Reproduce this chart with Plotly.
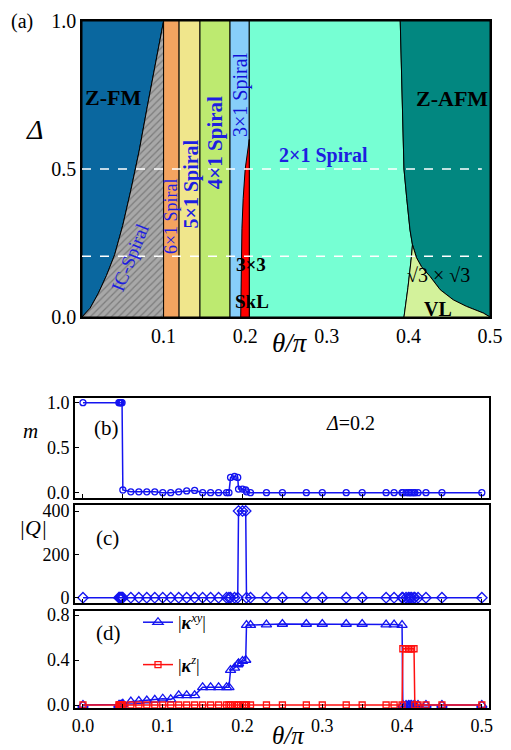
import plotly.graph_objects as go

# ---------------- Panel (a) phase-diagram data ----------------
ic_theta = [0.0, 0.01, 0.02, 0.03, 0.04, 0.05, 0.06, 0.07, 0.08, 0.09, 0.1]
ic_delta = [0.0, 0.03, 0.08, 0.14, 0.21, 0.31, 0.43, 0.56, 0.71, 0.85, 1.0]

spiral_edges = [0.1, 0.119, 0.1446, 0.1814, 0.205]   # 6x1 | 5x1 | 4x1 | 3x1
spiral_colors = ["#F4A460", "#F0E68C", "#BDEA70", "#87CEFA"]

skl_theta = [0.1945, 0.195, 0.196, 0.1975, 0.2, 0.205]
skl_delta = [0.0, 0.2, 0.3, 0.4, 0.5, 0.6]

afm_theta = [0.39, 0.392, 0.3946, 0.398, 0.402, 0.405]
afm_delta = [1.0, 0.733, 0.5, 0.4, 0.294, 0.244]

vl_top_theta = [0.405, 0.41, 0.416, 0.4265, 0.439, 0.455, 0.471, 0.4917, 0.5]
vl_top_delta = [0.244, 0.2, 0.17, 0.137, 0.092, 0.058, 0.036, 0.0135, 0.0]

vl_left_theta = [0.405, 0.4036, 0.3995, 0.3946]
vl_left_delta = [0.244, 0.2, 0.1, 0.0]

dashed_deltas = [0.5, 0.205]

# ---------------- Panels (b)-(d) data ----------------
theta = [0.0, 0.045, 0.046, 0.047, 0.048, 0.049, 0.05, 0.06, 0.07, 0.08, 0.09,
         0.10, 0.11, 0.12, 0.13, 0.14, 0.15, 0.16, 0.17, 0.18, 0.183, 0.185,
         0.19, 0.194, 0.195, 0.2, 0.204, 0.205, 0.21, 0.23, 0.25, 0.28, 0.30,
         0.33, 0.35, 0.38, 0.39, 0.40, 0.401, 0.405, 0.408, 0.41, 0.412, 0.415,
         0.416, 0.42, 0.43, 0.45, 0.5]

m_vals = [1.0, 1.0, 1.0, 1.0, 1.0, 1.0, 0.03, 0.01, 0.01, 0.01, 0.01,
          0.0, 0.0, 0.01, 0.02, 0.025, 0.0, 0.0, 0.0, 0.0, 0.0, 0.17,
          0.18, 0.17, 0.04, 0.04, 0.03, 0.01, 0.0, 0.0, 0.0, 0.0, 0.0,
          0.0, 0.0, 0.0, 0.0, 0.0, 0.0, 0.0, 0.0, 0.0, 0.0, 0.0,
          0.0, 0.0, 0.0, 0.0, 0.0]

q_vals = [0, 0, 0, 0, 0, 0, 0, 0, 0, 0, 0,
          0, 0, 0, 0, 0, 0, 0, 0, 0, 0, 0,
          0, 0, 400, 400, 400, 0, 0, 0, 0, 0, 0,
          0, 0, 0, 0, 0, 0, 0, 0, 0, 0, 0,
          0, 0, 0, 0, 0]

kxy_vals = [0.0, 0.0, 0.0, 0.0, 0.0, 0.005, 0.01, 0.03, 0.035, 0.04, 0.045,
            0.056, 0.05, 0.086, 0.086, 0.086, 0.157, 0.157, 0.157, 0.157, 0.157, 0.31,
            0.33, 0.36, 0.37, 0.39, 0.40, 0.71, 0.71, 0.715, 0.72, 0.72, 0.72,
            0.72, 0.72, 0.715, 0.715, 0.71, 0.0, 0.0, 0.0, 0.0, 0.0, 0.0,
            0.0, 0.0, 0.0, 0.0, 0.0]

kz_vals = [0.0, 0.0, 0.0, 0.0, 0.0, 0.0, 0.0, 0.0, 0.0, 0.0, 0.0,
           0.0, 0.0, 0.0, 0.0, 0.0, 0.0, 0.0, 0.0, 0.0, 0.0, 0.0,
           0.0, 0.0, 0.0, 0.0, 0.0, 0.0, 0.0, 0.0, 0.0, 0.0, 0.0,
           0.0, 0.0, 0.0, 0.0, 0.0, 0.5, 0.5, 0.5, 0.5, 0.5, 0.5,
           0.0, 0.0, 0.0, 0.0, 0.0]

# page body has an 8px margin, so the figure is 8px smaller and positions are offset
OFF = 8
W, H = 511 - OFF, 750 - OFF
FONT = "Liberation Serif"
BLUE = "#1414F0"
LBL = "#1E1EE0"


def P(px, py):
    return (px - OFF) / W, 1 - (py - OFF) / H


def xdom(left, right):
    return [(left - OFF) / W, (right - OFF) / W]


def ydom(top, bot):
    return [1 - (bot - OFF) / H, 1 - (top - OFF) / H]


fig = go.Figure()


def poly(xs, ys, color, **kw):
    fig.add_trace(go.Scatter(x=xs, y=ys, fill="toself", fillcolor=color, mode="lines",
                             line=dict(color="black", width=1), hoverinfo="skip",
                             showlegend=False, xaxis="x", yaxis="y", **kw))


# Z-FM
poly(ic_theta + [0.0, 0.0], ic_delta + [1.0, 0.0], "#0A679F")
# IC-Spiral (hatched)
poly(ic_theta + [0.1, 0.0], ic_delta + [0.0, 0.0], "#A8A8A8",
     fillpattern=dict(shape="/", fgcolor="#4F4F4F", bgcolor="#A8A8A8", size=5, solidity=0.25))
# commensurate spirals
for i, c in enumerate(spiral_colors):
    a, b = spiral_edges[i], spiral_edges[i + 1]
    poly([a, b, b, a, a], [0, 0, 1, 1, 0], c)
# 2x1 spiral
poly([0.205, 0.205] + afm_theta + vl_left_theta[1:] + [0.205],
     [0.0, 1.0] + afm_delta + vl_left_delta[1:] + [0.0], "#76FFD3")
# Z-AFM
poly([0.5, 0.5] + afm_theta + vl_top_theta[1:],
     [0.0, 1.0] + afm_delta + vl_top_delta[1:], "#028780")
# VL
poly(vl_left_theta + vl_top_theta[::-1],
     vl_left_delta + vl_top_delta[::-1], "#D3F29B")
# SkL
poly(skl_theta + [0.205, skl_theta[0]], skl_delta + [0.0, 0.0], "#FF0000")

# ---------------- (b) m ----------------
fig.add_trace(go.Scatter(x=theta, y=m_vals, mode="lines+markers", xaxis="x2", yaxis="y2",
                         line=dict(color=BLUE, width=1.5),
                         marker=dict(symbol="circle-open", size=6, color=BLUE, line=dict(width=1.3)),
                         showlegend=False))
# ---------------- (c) |Q| ----------------
fig.add_trace(go.Scatter(x=theta, y=q_vals, mode="lines+markers", xaxis="x3", yaxis="y3",
                         line=dict(color=BLUE, width=1.5),
                         marker=dict(symbol="diamond-open", size=8, color=BLUE, line=dict(width=1.3)),
                         showlegend=False))
# ---------------- (d) kappa ----------------
fig.add_trace(go.Scatter(x=theta, y=kxy_vals, mode="lines+markers", xaxis="x4", yaxis="y4",
                         name="|<b><i>κ</i></b><sup><i>xy</i></sup>|", legendgroup="a",
                         line=dict(color=BLUE, width=1.5),
                         marker=dict(symbol="triangle-up-open", size=9, color=BLUE, line=dict(width=1.3))))
fig.add_trace(go.Scatter(x=theta, y=kz_vals, mode="lines+markers", xaxis="x4", yaxis="y4",
                         name="|<b><i>κ</i></b><sup><i>z</i></sup>|", legendgroup="b",
                         line=dict(color="#FF1010", width=1.5),
                         marker=dict(symbol="square-open", size=6, color="#FF1010", line=dict(width=1.3))))

# ---------------- axes ----------------
TICKF_A = dict(family=FONT, size=20, color="black")
TICKF = dict(family=FONT, size=18, color="black")
base = dict(showgrid=False, zeroline=False, linecolor="black", mirror=True, automargin=False)

minor = dict(dtick=0.05, ticks="inside", ticklen=4, tick0=0, tickcolor="black")
xticks = [0, 0.1, 0.2, 0.3, 0.4, 0.5]

fig.update_layout(
    xaxis=dict(domain=xdom(82, 490), range=[0, 0.5], tickvals=[0.1, 0.2, 0.3, 0.4, 0.5],
               tickformat=".1f", ticks="", linewidth=1.5, anchor="y", tickfont=TICKF_A, **base),
    yaxis=dict(domain=ydom(21, 317), range=[0, 1], tickvals=[0, 0.5, 1.0], tickformat=".1f",
               ticks="", linewidth=1.5, anchor="x", tickfont=TICKF_A, **base),
    xaxis2=dict(domain=xdom(75, 489), range=[-0.01, 0.509], tickvals=xticks, ticks="inside", ticklen=4,
                tickcolor="black", showticklabels=False, linewidth=1.8, anchor="y2", minor=minor,
                tickfont=TICKF, **base),
    yaxis2=dict(domain=ydom(398, 498), range=[-0.059, 1.052], tickvals=[0, 0.5, 1.0], tickformat=".1f",
                ticks="inside", ticklen=4, tickcolor="black", linewidth=1.8, anchor="x2",
                tickfont=TICKF, **base),
    xaxis3=dict(domain=xdom(75, 489), range=[-0.01, 0.509], tickvals=xticks, ticks="inside", ticklen=4,
                tickcolor="black", showticklabels=False, linewidth=1.8, anchor="y3", minor=minor,
                tickfont=TICKF, **base),
    yaxis3=dict(domain=ydom(505, 603), range=[-24.5, 427.7], tickvals=[0, 200, 400],
                ticks="inside", ticklen=4, tickcolor="black", linewidth=1.8, anchor="x3",
                tickfont=TICKF, **base),
    xaxis4=dict(domain=xdom(75, 489), range=[-0.01, 0.509], tickvals=xticks, tickformat=".1f",
                ticks="inside", ticklen=4, tickcolor="black", linewidth=1.8, anchor="y4", minor=minor,
                tickfont=TICKF, **base),
    yaxis4=dict(domain=ydom(611, 708), range=[-0.0267, 0.8356], tickvals=[0, 0.4, 0.8], tickformat=".1f",
                ticks="inside", ticklen=4, tickcolor="black", linewidth=1.8, anchor="x4",
                tickfont=TICKF, **base),
)

# dashed white lines in (a)
for d in dashed_deltas:
    fig.add_shape(type="line", xref="x", yref="y", x0=0.0, x1=0.49, y0=d, y1=d,
                  line=dict(color="white", width=1.5, dash="dash"))


# ---------------- text labels in (a) ----------------
def lab(x, y, text, size, color="black", angle=0):
    fig.add_annotation(x=x, y=y, xref="x", yref="y", text=text, showarrow=False,
                       textangle=angle, font=dict(family=FONT, size=size, color=color),
                       xanchor="center", yanchor="middle")


lab(0.038, 0.74, "<b>Z-FM</b>", 22)
lab(0.059, 0.20, "IC-Spiral", 19, LBL, -68)
lab(0.110, 0.34, "6×1 Spiral", 18, LBL, -90)
lab(0.1344, 0.45, "<b>5×1 Spiral</b>", 20, LBL, -90)
lab(0.164, 0.59, "<b>4×1 Spiral</b>", 21, LBL, -90)
lab(0.1936, 0.75, "3×1 Spiral", 20, "#1010D8", -90)
lab(0.2957, 0.547, "<b>2×1 Spiral</b>", 20, LBL)
lab(0.453, 0.739, "<b>Z-AFM</b>", 22)
lab(0.4367, 0.142, "√3 × √3", 20)
lab(0.4367, 0.026, "<b>VL</b>", 20)
lab(0.2075, 0.176, "<b>3×3</b>", 19)
lab(0.2085, 0.052, "<b>SkL</b>", 19)


def plab(px, py, text, size):
    x, y = P(px, py)
    fig.add_annotation(x=x, y=y, xref="paper", yref="paper", text=text, showarrow=False,
                       font=dict(family=FONT, size=size, color="black"),
                       xanchor="center", yanchor="middle")


plab(22, 21, "(a)", 20)
plab(34, 130, "<i>Δ</i>", 28)
plab(290, 343, "<i>θ/π</i>", 27)
plab(30, 431, "<i>m</i>", 21)
plab(33, 527, "<i>|Q|</i>", 22)
plab(106, 428, "(b)", 21)
plab(107, 538, "(c)", 21)
plab(108, 633, "(d)", 21)
plab(350, 423, "<i>Δ</i>=0.2", 20)
plab(288, 735, "<i>θ/π</i>", 25)

lx, ly = P(138, 604)
fig.update_layout(
    width=W, height=H, margin=dict(l=0, r=0, t=0, b=0, autoexpand=False),
    paper_bgcolor="white", plot_bgcolor="white",
    font=dict(family=FONT, color="black"),
    showlegend=True,
    legend=dict(x=lx, y=ly, xanchor="left", yanchor="top", bgcolor="rgba(0,0,0,0)",
                font=dict(family=FONT, size=18, color="black"), itemwidth=30,
                tracegroupgap=16),
)

fig.write_html("out.html")
